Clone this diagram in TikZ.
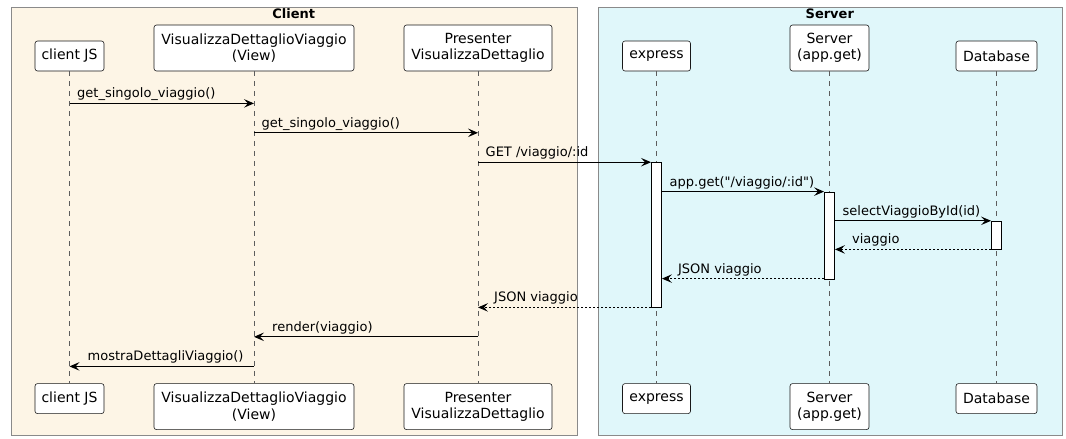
\documentclass[tikz,border=0pt]{standalone}
\usepackage{fontspec}
\setmainfont{DejaVu Sans}[Ligatures=TeXOff]
\usetikzlibrary{arrows.meta}
\definecolor{clientbg}{HTML}{FDF5E6}
\definecolor{serverbg}{HTML}{E0F7FA}
\definecolor{framegray}{HTML}{8A8A8A}
\definecolor{partline}{HTML}{181818}
\tikzset{
  frame/.style={draw=framegray, line width=0.8pt},
  frametitle/.style={font=\fontsize{13}{15}\selectfont\bfseries, anchor=base, inner sep=0pt},
  part/.style={draw=partline, line width=0.6pt, fill=white, rounded corners=2.5pt,
    font=\fontsize{14}{16.3}\selectfont, align=center, inner sep=0pt},
  lifeline/.style={draw=partline!70, line width=0.5pt, dash pattern=on 5pt off 5pt},
  actbar/.style={draw=black, line width=0.9pt, fill=white, minimum width=10pt, inner sep=0pt},
  msg/.style={draw=black, line width=1pt, -{Stealth[length=10pt, width=8.5pt, inset=4pt]}},
  ret/.style={msg, dash pattern=on 2pt off 2pt},
  lbl/.style={font=\fontsize{13}{15}\selectfont, inner sep=0pt, anchor=base west, yshift=5.5pt}
}
\begin{document}
\begin{tikzpicture}[x=1pt, y=-1pt]
\useasboundingbox (0,0) rectangle (1066,439);
% frames
\node[frame, fill=clientbg, minimum width=565.7pt, minimum height=428pt, anchor=north west, inner sep=0pt] (clientbox) at (11,6.5) {};
\node[frame, fill=serverbg, minimum width=463.4pt, minimum height=428pt, anchor=north west, inner sep=0pt] (serverbox) at (598.3,6.5) {};
\node[frametitle] (clienttitle) at (293.8,18.5) {Client};
\node[frametitle] (servertitle) at (829.8,18.5) {Server};
% participants top
\node[part, minimum width=69pt, minimum height=30pt, anchor=south] (cjsT) at (69.5,71.3) {client JS};
\node[part, minimum width=200pt, minimum height=46pt, anchor=south] (viewT) at (254,71.3) {VisualizzaDettaglioViaggio\\(View)};
\node[part, minimum width=148pt, minimum height=46pt, anchor=south] (presT) at (478,71.3) {Presenter\\VisualizzaDettaglio};
\node[part, minimum width=68pt, minimum height=30pt, anchor=south] (expT) at (656.5,71.3) {express};
\node[part, minimum width=79pt, minimum height=46pt, anchor=south] (srvT) at (829.5,71.3) {Server\\(app.get)};
\node[part, minimum width=81pt, minimum height=30pt, anchor=south] (dbT) at (996.5,71.3) {Database};
% participants bottom
\node[part, minimum width=69pt, minimum height=30pt, anchor=north] (cjsB) at (69.5,383.3) {client JS};
\node[part, minimum width=200pt, minimum height=46pt, anchor=north] (viewB) at (254,383.3) {VisualizzaDettaglioViaggio\\(View)};
\node[part, minimum width=148pt, minimum height=46pt, anchor=north] (presB) at (478,383.3) {Presenter\\VisualizzaDettaglio};
\node[part, minimum width=68pt, minimum height=30pt, anchor=north] (expB) at (656.5,383.3) {express};
\node[part, minimum width=79pt, minimum height=46pt, anchor=north] (srvB) at (829.5,383.3) {Server\\(app.get)};
\node[part, minimum width=81pt, minimum height=30pt, anchor=north] (dbB) at (996.5,383.3) {Database};
% lifelines
\foreach \p in {cjs,view,pres,exp,srv,db}{
  \draw[lifeline] (\p T.south) -- (\p B.north);
}
% message rows
\coordinate (r1) at (0,103.4);
\coordinate (r2) at (0,132.8);
\coordinate (r3) at (0,162.2);
\coordinate (r4) at (0,191.6);
\coordinate (r5) at (0,220.8);
\coordinate (r6) at (0,249.4);
\coordinate (r7) at (0,278.6);
\coordinate (r8) at (0,307.4);
\coordinate (r9) at (0,336.8);
\coordinate (r10) at (0,366.4);
% activation bars
\node[actbar, anchor=north, minimum height=145.2pt] (actE) at (expT.south |- r3) {};
\node[actbar, anchor=north, minimum height=87pt] (actS) at (srvT.south |- r4) {};
\node[actbar, anchor=north, minimum height=28.6pt] (actD) at (dbT.south |- r5) {};
% messages
\draw[msg] (cjsT.south |- r1) -- (viewT.south |- r1);
\node[lbl, xshift=7.5pt] (l1) at (cjsT.south |- r1) {get\_singolo\_viaggio()};
\draw[msg] (viewT.south |- r2) -- (presT.south |- r2);
\node[lbl, xshift=7.5pt] (l2) at (viewT.south |- r2) {get\_singolo\_viaggio()};
\draw[msg] (presT.south |- r3) -- (actE.west |- r3);
\node[lbl, xshift=7.5pt] (l3) at (presT.south |- r3) {GET /viaggio/:id};
\draw[msg] (actE.east |- r4) -- (actS.west |- r4);
\node[lbl, xshift=7.5pt] (l4) at (actE.east |- r4) {app.get("/viaggio/:id")};
\draw[msg] (actS.east |- r5) -- (actD.west |- r5);
\node[lbl, xshift=7.5pt] (l5) at (actS.east |- r5) {selectViaggioById(id)};
\draw[ret] (actD.west |- r6) -- (actS.east |- r6);
\node[lbl, xshift=17pt] (l6) at (actS.east |- r6) {viaggio};
\draw[ret] (actS.west |- r7) -- (actE.east |- r7);
\node[lbl, xshift=16pt] (l7) at (actE.east |- r7) {JSON viaggio};
\draw[ret] (actE.west |- r8) -- (presT.south |- r8);
\node[lbl, xshift=16pt] (l8) at (presT.south |- r8) {JSON viaggio};
\draw[msg] (presT.south |- r9) -- (viewT.south |- r9);
\node[lbl, xshift=18pt] (l9) at (viewT.south |- r9) {render(viaggio)};
\draw[msg] (viewT.south |- r10) -- (cjsT.south |- r10);
\node[lbl, xshift=18pt] (l10) at (cjsT.south |- r10) {mostraDettagliViaggio()};
\end{tikzpicture}
\end{document}
